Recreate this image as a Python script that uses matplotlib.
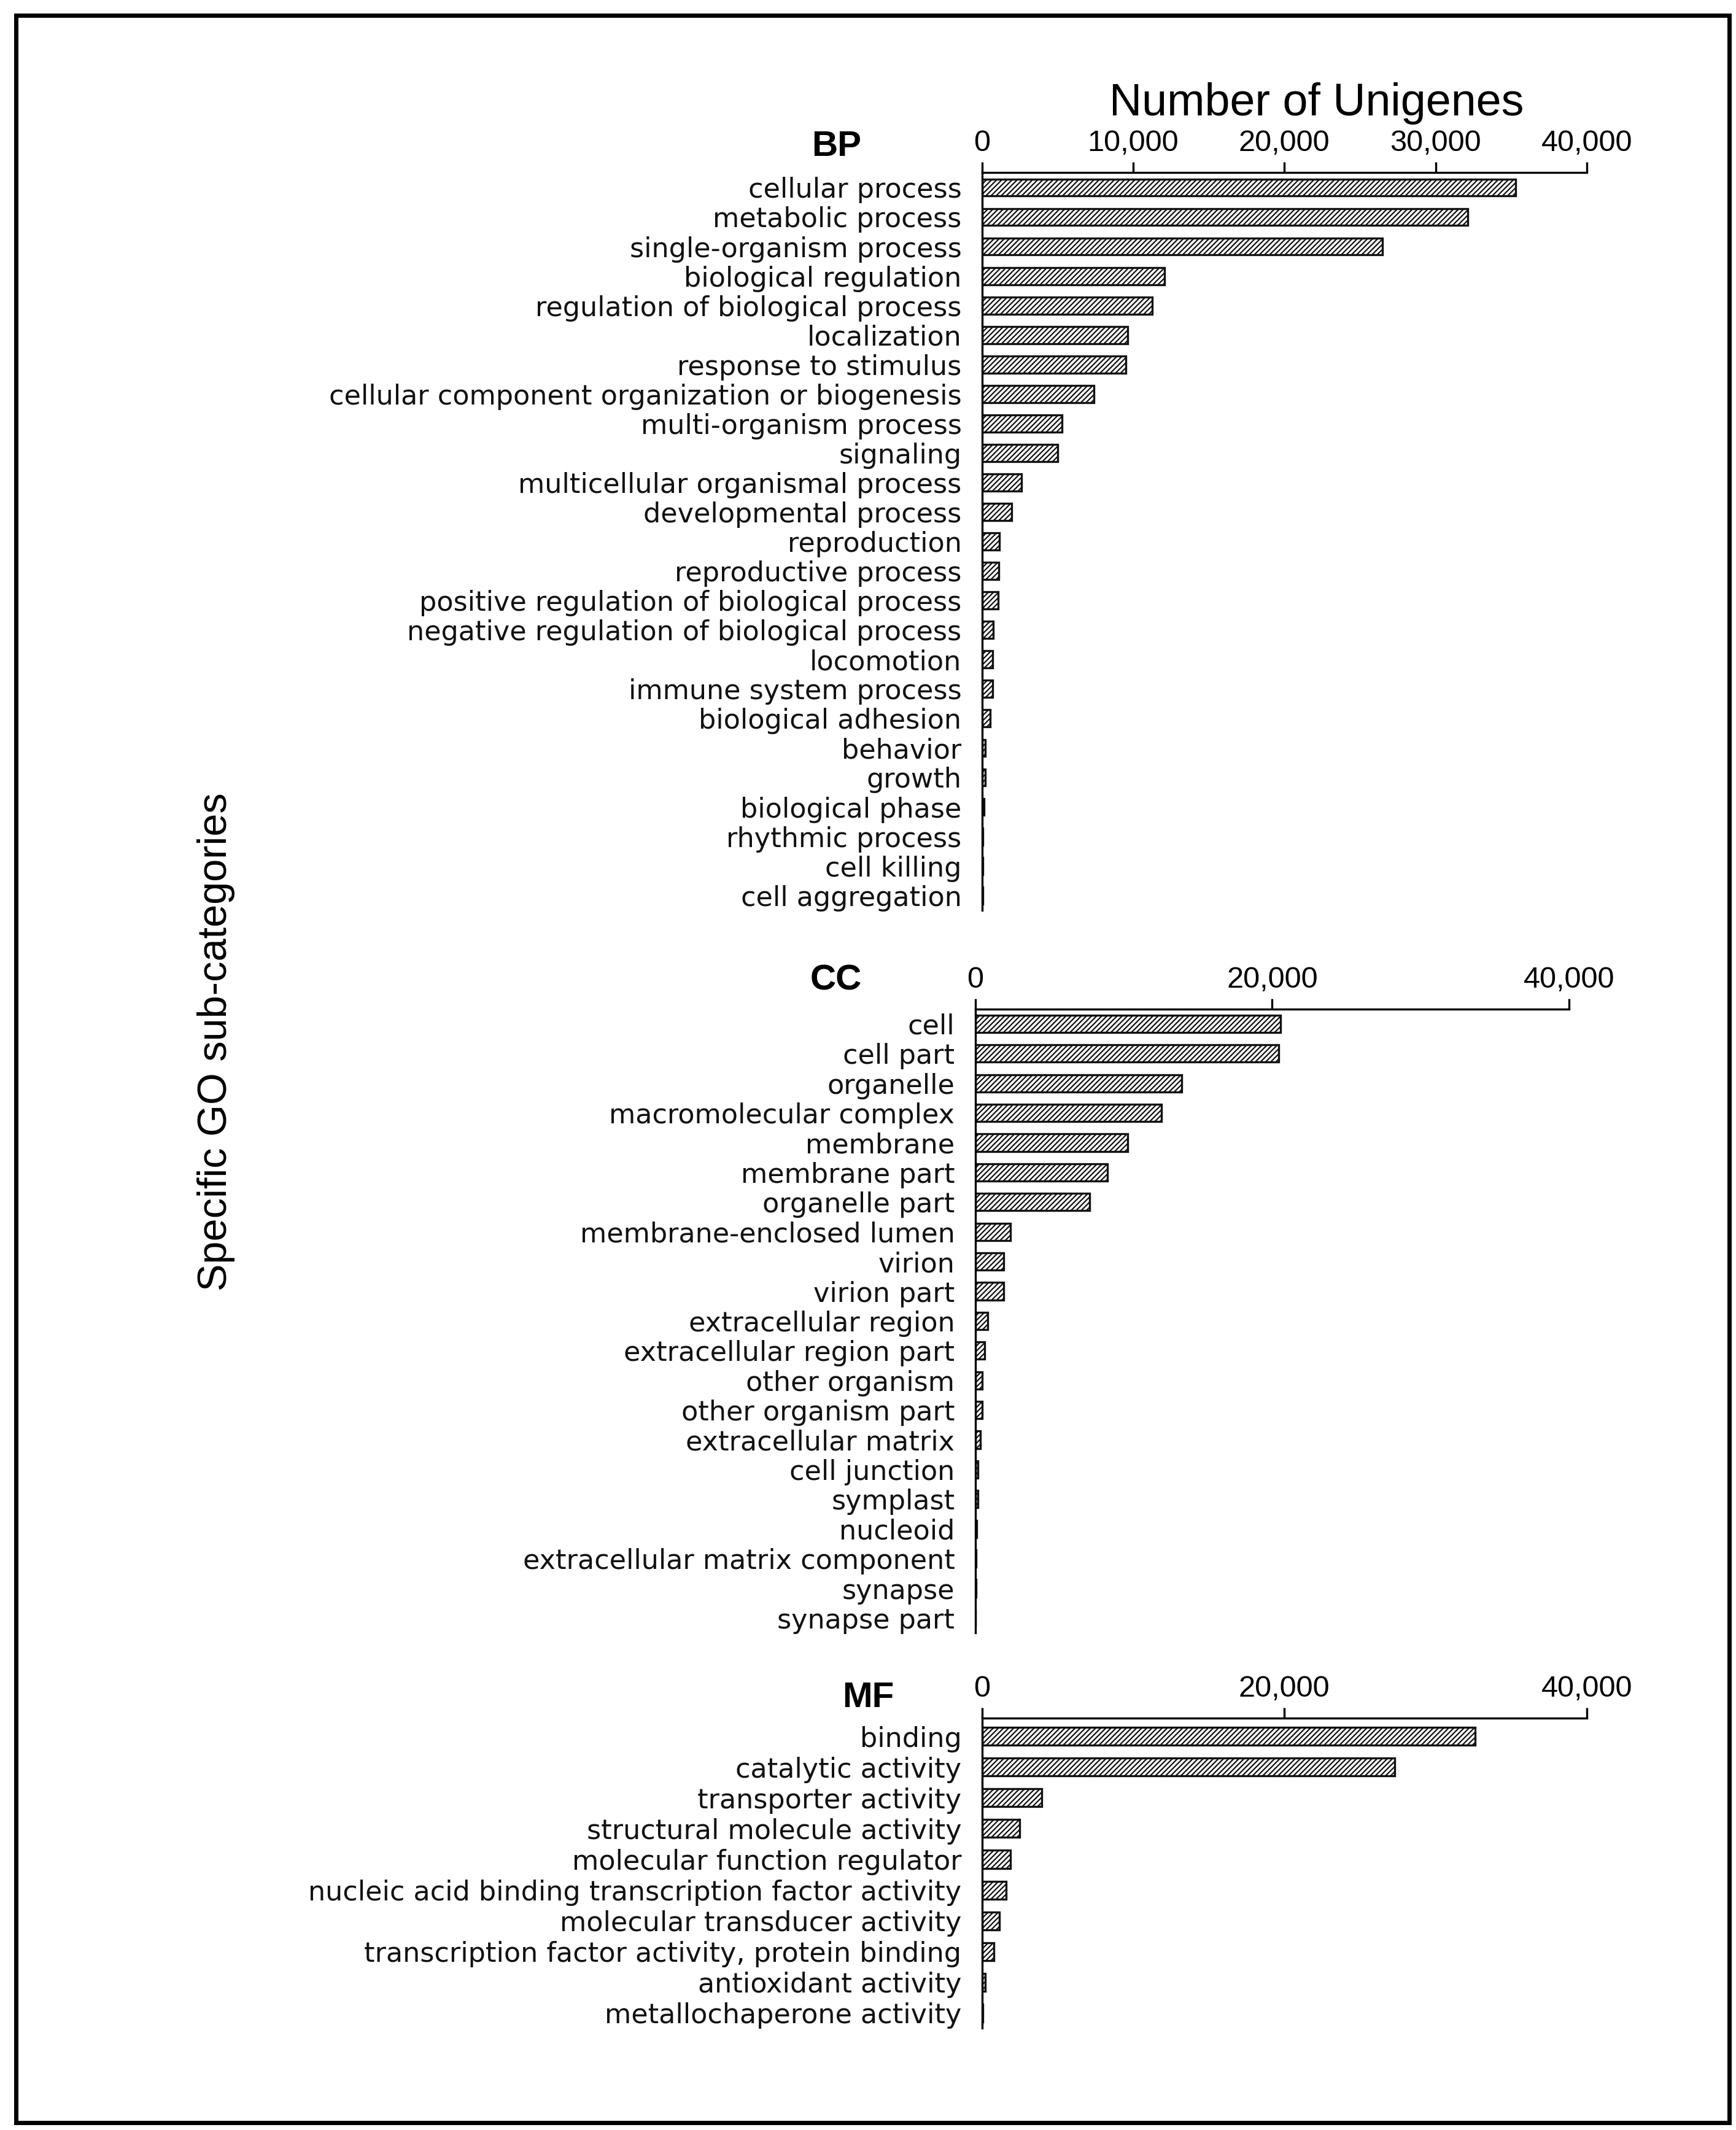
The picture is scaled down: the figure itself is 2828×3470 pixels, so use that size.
import matplotlib.pyplot as plt
from matplotlib.patches import Rectangle
from matplotlib.ticker import FuncFormatter

plt.rcParams['font.family'] = ['Liberation Sans', 'DejaVu Sans']
plt.rcParams['hatch.linewidth'] = 0.8

bp_terms = ['cellular process', 'metabolic process', 'single-organism process',
            'biological regulation', 'regulation of biological process',
            'localization', 'response to stimulus',
            'cellular component organization or biogenesis',
            'multi-organism process', 'signaling',
            'multicellular organismal process', 'developmental process',
            'reproduction', 'reproductive process',
            'positive regulation of biological process',
            'negative regulation of biological process', 'locomotion',
            'immune system process', 'biological adhesion', 'behavior',
            'growth', 'biological phase', 'rhythmic process', 'cell killing',
            'cell aggregation']
bp_counts = [35300, 32150, 26500, 12050, 11250, 9650, 9500, 7400, 5300, 5000,
             2600, 1950, 1150, 1100, 1050, 750, 700, 700, 550, 200, 200, 120,
             50, 50, 30]

cc_terms = ['cell', 'cell part', 'organelle', 'macromolecular complex',
            'membrane', 'membrane part', 'organelle part',
            'membrane-enclosed lumen', 'virion', 'virion part',
            'extracellular region', 'extracellular region part',
            'other organism', 'other organism part', 'extracellular matrix',
            'cell junction', 'symplast', 'nucleoid',
            'extracellular matrix component', 'synapse', 'synapse part']
cc_counts = [20550, 20450, 13900, 12550, 10250, 8900, 7700, 2350, 1900, 1900,
             820, 640, 450, 450, 360, 180, 180, 80, 50, 40, 30]

mf_terms = ['binding', 'catalytic activity', 'transporter activity',
            'structural molecule activity', 'molecular function regulator',
            'nucleic acid binding transcription factor activity',
            'molecular transducer activity',
            'transcription factor activity, protein binding',
            'antioxidant activity', 'metallochaperone activity']
mf_counts = [32600, 27300, 3950, 2500, 1880, 1600, 1160, 800, 200, 50]

W, H = 2828, 3470
fig = plt.figure(figsize=(W / 200, H / 200), dpi=200)


def panel(rect, terms, counts, ticks, top_pad):
    ax = fig.add_axes(rect)
    n = len(terms)
    ax.barh(range(n), counts, height=0.58, color='white', edgecolor='#111111',
            hatch='////////', linewidth=1.2)
    ax.set_ylim(n - 0.5, top_pad)
    ax.set_xlim(0, 40000)
    ax.set_yticks(range(n))
    ax.set_yticklabels(terms, fontsize=16, family='DejaVu Sans',
                       color='#111111')
    ax.xaxis.tick_top()
    ax.set_xticks(ticks)
    ax.xaxis.set_major_formatter(FuncFormatter(lambda v, p: f'{int(v):,}'))
    ax.spines['right'].set_visible(False)
    ax.spines['bottom'].set_visible(False)
    ax.spines['top'].set_linewidth(1.2)
    ax.spines['left'].set_linewidth(1.2)
    ax.tick_params(axis='y', length=0, pad=12)
    ax.tick_params(axis='x', length=6, width=1.2, pad=3, labelsize=17.5)
    return ax


panel([0.5657, 0.5727, 0.3483, 0.3462], bp_terms, bp_counts,
      [0, 10000, 20000, 30000, 40000], -0.5)
panel([0.5618, 0.2334, 0.3421, 0.2929], cc_terms, cc_counts,
      [0, 20000, 40000], -0.5)
panel([0.5657, 0.0477, 0.3483, 0.1458], mf_terms, mf_counts,
      [0, 20000, 40000], -0.6)

fig.text(0.7585, 0.9515, 'Number of Unigenes', fontsize=26.5,
         ha='center', va='center')
fig.text(0.482, 0.931, 'BP', fontsize=21, fontweight='bold',
         ha='center', va='center')
fig.text(0.4815, 0.5395, 'CC', fontsize=21, fontweight='bold',
         ha='center', va='center')
fig.text(0.500, 0.2030, 'MF', fontsize=21, fontweight='bold',
         ha='center', va='center')
fig.text(0.1245, 0.511, 'Specific GO sub-categories', fontsize=24,
         rotation=90, ha='center', va='center',
         family=['Liberation Sans Narrow', 'Liberation Sans', 'DejaVu Sans'])

fig.patches.append(Rectangle((26 / W, 1 - 3458 / H), (2817 - 26) / W,
                             (3458 - 25) / H, transform=fig.transFigure,
                             fill=False, linewidth=2.5, edgecolor='black'))

fig.savefig('out.png', dpi=200)
